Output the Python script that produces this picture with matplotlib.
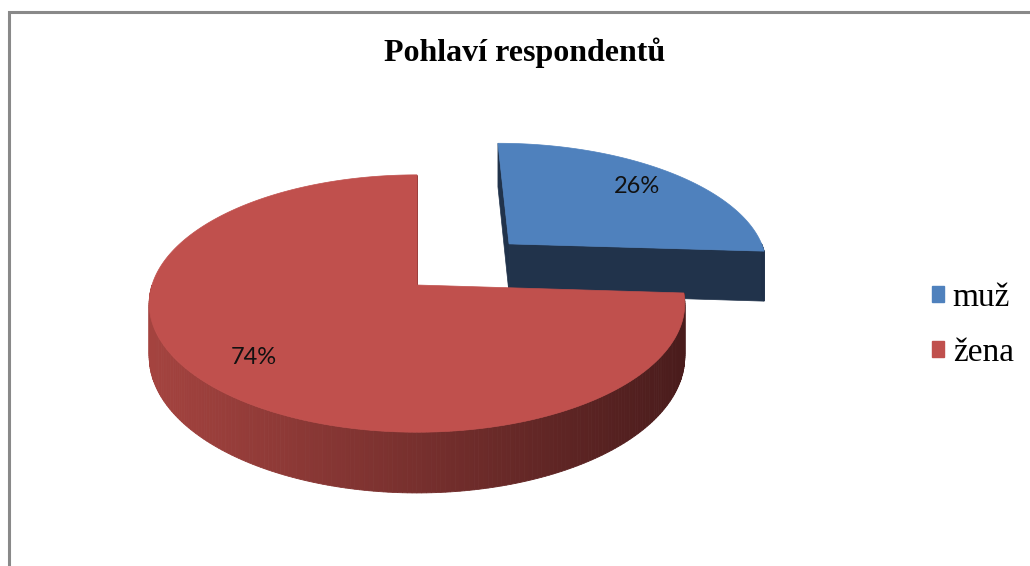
import numpy as np
import matplotlib
matplotlib.use("Agg")
import matplotlib.pyplot as plt
from matplotlib.patches import Polygon, Patch
from matplotlib.colors import to_rgb

# --- data ---
categories = ["muž", "žena"]
shares = [26, 74]                 # percent
explode = [0.5, 0.0]              # radial offset, fraction of radius
top_colors = ["#4F81BD", "#C0504D"]
side_left = ["#22344C", "#A4433F"]
side_right = ["#1F3049", "#4A1C1C"]

# --- 3D pie geometry (pixels) ---
CX, CY = 417, 285
RX, RY = 265, 126
K = 0.144          # fake perspective
DEPTH = 52


def proj(u, v, z=0.0):
    w = 1 + K * v
    return CX + RX * u / w, CY - RY * v / w + z * DEPTH / w


def mix(c1, c2, t):
    a, b = np.array(to_rgb(c1)), np.array(to_rgb(c2))
    return tuple(a + (b - a) * min(max(t, 0), 1))


fig = plt.figure(figsize=(10.30, 5.66), dpi=100)
ax = fig.add_axes([0, 0, 1, 1])
ax.set_xlim(0, 1030)
ax.set_ylim(566, 0)
ax.axis("off")

# slices start at 12 o'clock, going clockwise
bounds = 90 - np.cumsum([0] + [s * 3.6 for s in shares])
slices = []
for i in range(len(shares)):
    a1, a0 = bounds[i + 1], bounds[i]          # a1 < a0
    mid = np.radians((a0 + a1) / 2)
    off = (explode[i] * np.cos(mid), explode[i] * np.sin(mid))
    slices.append((a1, a0, off))

# far slices first
order = sorted(range(len(shares)), key=lambda i: -(slices[i][2][1]))
for i in order:
    a1, a0, (ou, ov) = slices[i]
    th = np.radians(np.linspace(a1, a0, 300))
    rim_u, rim_v = ou + np.cos(th), ov + np.sin(th)

    def xfrac(x):
        return (x - (CX - RX)) / (2 * RX)

    # radial side faces
    for ang, sign in ((a1, 1), (a0, -1)):
        t = np.radians(ang)
        nu, nv = sign * np.sin(t), -sign * np.cos(t)   # outward normal
        if nv < 0 or (nu * (ou + 0.5 * np.cos(t)) < 0):
            pts = [proj(ou, ov), proj(ou + np.cos(t), ov + np.sin(t)),
                   proj(ou + np.cos(t), ov + np.sin(t), 1), proj(ou, ov, 1)]
            c = mix(side_left[i], side_right[i], 0.3)
            ax.add_patch(Polygon(pts, closed=True, fc=c, ec=c, lw=0.5))

    # outer rim, front part only, shaded left->right
    for k in range(len(th) - 1):
        if np.sin(th[k]) > 0 and np.sin(th[k + 1]) > 0:
            continue
        p = [proj(rim_u[k], rim_v[k]), proj(rim_u[k + 1], rim_v[k + 1]),
             proj(rim_u[k + 1], rim_v[k + 1], 1), proj(rim_u[k], rim_v[k], 1)]
        c = mix(side_left[i], side_right[i], xfrac(p[0][0]))
        ax.add_patch(Polygon(p, closed=True, fc=c, ec=c, lw=0.6))

    # top face
    top = [proj(ou, ov)] + [proj(u, v) for u, v in zip(rim_u, rim_v)]
    ax.add_patch(Polygon(top, closed=True, fc=top_colors[i], ec=top_colors[i], lw=0.5))

# percentage labels
for i in range(len(shares)):
    a1, a0, (ou, ov) = slices[i]
    mid = np.radians((a0 + a1) / 2)
    lx, ly = proj(ou + 0.78 * np.cos(mid), ov + 0.78 * np.sin(mid))
    ax.text(lx, ly, f"{shares[i]}%", ha="center", va="center",
            fontsize=17, family="Lato", color="#111111")

# chart border
ax.plot([9, 9, 1030], [566, 12, 12], color="#898989", lw=2.2, solid_joinstyle="miter")

fig.text(525 / 1030, 1 - 53 / 566, "Pohlaví respondentů", ha="center", va="center",
         fontsize=23, fontweight="bold", family="Liberation Serif")

handles = [Patch(facecolor=c, edgecolor=c) for c in top_colors]
fig.legend(handles, categories, loc="center left",
           bbox_to_anchor=(932 / 1030, 1 - 325 / 566),
           frameon=False, borderpad=0, borderaxespad=0,
           handlelength=0.37, handleheight=0.37, handletextpad=0.25,
           labelspacing=0.74, prop={"family": "Liberation Serif", "size": 24})

fig.savefig("out.png", dpi=100, facecolor="white")
